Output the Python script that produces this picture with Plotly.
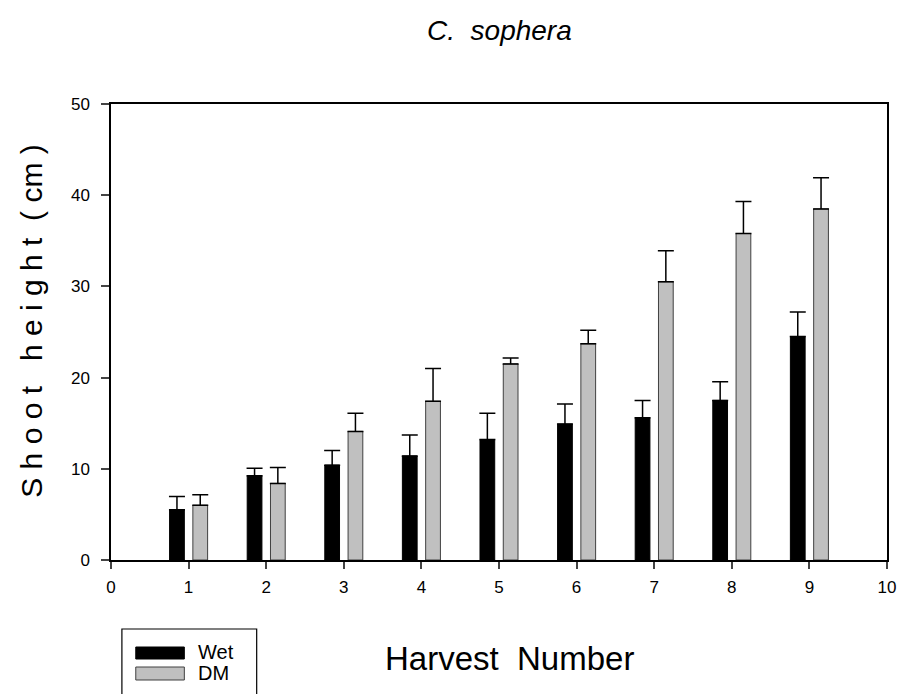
import plotly.graph_objects as go

harvest = [1, 2, 3, 4, 5, 6, 7, 8, 9]
wet_mean = [5.5, 9.25, 10.4, 11.4, 13.2, 14.9, 15.6, 17.5, 24.5]
wet_err = [1.45, 0.8, 1.6, 2.3, 2.9, 2.2, 1.9, 2.05, 2.7]
dm_mean = [6.0, 8.4, 14.1, 17.4, 21.5, 23.7, 30.5, 35.8, 38.5]
dm_err = [1.15, 1.75, 2.0, 3.6, 0.65, 1.5, 3.4, 3.5, 3.4]
series_names = ["Wet", "DM"]
x_ticks = list(range(0, 11))
y_ticks = [0, 10, 20, 30, 40, 50]

FONT = "Arial, Liberation Sans, sans-serif"

# page has an 8px body margin; plot area in page pixels: x 111..893, y 104..560
PL, PR, PT, PB = 111, 894, 104, 560
OFF = 8
W, H = 900, 686


def px_x(p):
    return (p - PL) / (PR - PL)


def px_y(p):
    return (PB - p) / (PB - PT)


fig = go.Figure()
fig.add_trace(go.Bar(
    x=harvest, y=wet_mean, name=series_names[0], width=0.19, offset=-0.245,
    marker=dict(color="black", line=dict(color="black", width=1)),
    error_y=dict(type="data", symmetric=False, array=wet_err, arrayminus=[0] * len(wet_err),
                 color="black", thickness=1.5, width=8),
    showlegend=False))
fig.add_trace(go.Bar(
    x=harvest, y=dm_mean, name=series_names[1], width=0.19, offset=0.055,
    marker=dict(color="#c0c0c0", line=dict(color="#404040", width=1)),
    error_y=dict(type="data", symmetric=False, array=dm_err, arrayminus=[0] * len(dm_err),
                 color="black", thickness=1.5, width=8),
    showlegend=False))

fig.update_layout(
    width=W, height=H,
    margin=dict(l=PL - OFF, r=W - (PR - OFF), t=PT - OFF, b=H - (PB - OFF), pad=0),
    paper_bgcolor="white", plot_bgcolor="white",
    barmode="overlay",
    font=dict(family=FONT, color="black", size=17),
    xaxis=dict(range=[0, 10], tickvals=x_ticks, ticks="outside", ticklen=7,
               tickwidth=1.5, showline=True, linecolor="black", linewidth=1.5, mirror=True,
               showgrid=False, zeroline=False, tickfont=dict(size=17), ticklabelstandoff=4),
    yaxis=dict(range=[0, 50], tickvals=y_ticks, ticks="outside", ticklen=8,
               tickwidth=1.5, showline=True, linecolor="black", linewidth=1.5, mirror=True,
               showgrid=False, zeroline=False, tickfont=dict(size=17), ticklabelstandoff=8),
)

# title
fig.add_annotation(text="<i>C.  sophera</i>", xref="paper", yref="paper", x=px_x(503), y=px_y(31),
                   xanchor="center", yanchor="middle", showarrow=False, font=dict(size=28, family=FONT))
# y title
fig.add_annotation(text="S h o o t   h e i g h t  ( cm )", xref="paper", yref="paper",
                   x=px_x(30), y=px_y(321), xanchor="center", yanchor="middle", textangle=-90,
                   showarrow=False, font=dict(size=30, family=FONT))
# x title
fig.add_annotation(text="Harvest  Number", xref="paper", yref="paper", x=px_x(513), y=px_y(658),
                   xanchor="center", yanchor="middle", showarrow=False, font=dict(size=33, family=FONT))

# legend (manual)
fig.add_shape(type="rect", xref="paper", yref="paper", x0=px_x(122), x1=px_x(258),
              y0=px_y(700), y1=px_y(629), line=dict(color="black", width=1.2), fillcolor="white")
fig.add_shape(type="rect", xref="paper", yref="paper", x0=px_x(136), x1=px_x(185),
              y0=px_y(659), y1=px_y(647), line=dict(color="black", width=1), fillcolor="black")
fig.add_shape(type="rect", xref="paper", yref="paper", x0=px_x(136), x1=px_x(185),
              y0=px_y(680), y1=px_y(667), line=dict(color="#404040", width=1), fillcolor="#c0c0c0")
fig.add_annotation(text=series_names[0], xref="paper", yref="paper", x=px_x(197), y=px_y(652),
                   xanchor="left", yanchor="middle", showarrow=False, font=dict(size=20, family=FONT))
fig.add_annotation(text=series_names[1], xref="paper", yref="paper", x=px_x(197), y=px_y(673),
                   xanchor="left", yanchor="middle", showarrow=False, font=dict(size=20, family=FONT))

fig.write_html("out.html")
